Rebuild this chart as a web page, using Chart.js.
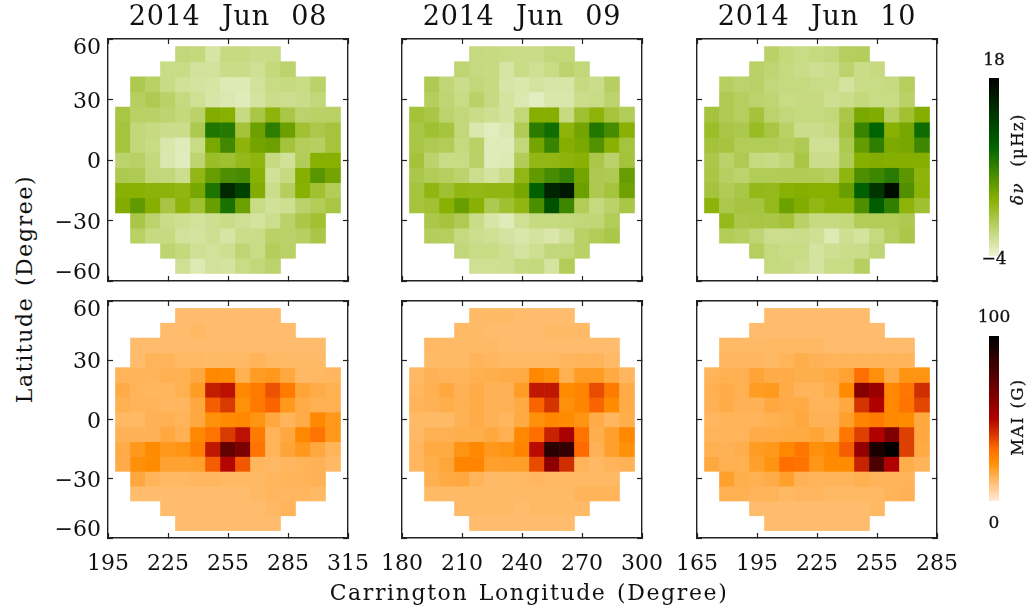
<!DOCTYPE html>
<html>
<head>
<meta charset="utf-8">
<title>Carrington maps 2014 Jun 08-10</title>
<script src="https://cdn.jsdelivr.net/npm/chart.js@4"></script>
<style>
  html, body { margin: 0; padding: 0; background: #fff; }
  #page { position: relative; width: 1031px; height: 614px; overflow: hidden; font-family: "DejaVu Serif", serif; color: #111; }
  canvas { position: absolute; }
  .txt { position: absolute; white-space: pre; transform: translate(-50%, -50%); }
  .rot { transform: translate(-50%, -50%) rotate(-90deg); }
  .title { font-size: 27px; letter-spacing: .8px; word-spacing: 12px; }
  .axis { font-size: 22px; letter-spacing: 1.6px; word-spacing: 2px; }
  .cb { font-size: 17px; -webkit-text-stroke: .3px #111; }
  .cbt { font-size: 16.5px; letter-spacing: 1.4px; word-spacing: 1px; -webkit-text-stroke: .3px #111; }
</style>
</head>
<body>
<div id="page"></div>
<script>
var _ = null;
var dates = ["2014 Jun 08", "2014 Jun 09", "2014 Jun 10"];
var latCells = [52.5, 45, 37.5, 30, 22.5, 15, 7.5, 0, -7.5, -15, -22.5, -30, -37.5, -45, -52.5];
var latTicks = [-60, -30, 0, 30, 60];
var lonTicks = [
  [195, 225, 255, 285, 315],
  [180, 210, 240, 270, 300],
  [165, 195, 225, 255, 285]
];
var lonCells = [
  [202.5, 210, 217.5, 225, 232.5, 240, 247.5, 255, 262.5, 270, 277.5, 285, 292.5, 300, 307.5],
  [187.5, 195, 202.5, 210, 217.5, 225, 232.5, 240, 247.5, 255, 262.5, 270, 277.5, 285, 292.5],
  [172.5, 180, 187.5, 195, 202.5, 210, 217.5, 225, 232.5, 240, 247.5, 255, 262.5, 270, 277.5]
];

/* delta nu, uHz */
var dnuJun08 = [
  [_,_,_,_,-1,-1.1,-2.4,-1.3,-1.3,-1.5,-1.5,_,_,_,_],
  [_,_,_,-1.4,-1.4,-2.1,-2.1,-1.5,-1.5,-1.9,-1.1,-.6,_,_,_],
  [_,.4,-.3,-1.4,-2,-2.2,-2.4,-2.9,-2.9,-2.1,-1.4,-1.3,-1.4,-.5,_],
  [_,-.2,.3,-.4,-1.2,-1.9,-2.5,-2.8,-3.1,-2.2,-1.6,-1.7,-1.5,-1,_],
  [.8,-.3,-.4,-.7,-1.1,-.5,3.3,3,-1.3,.7,2.6,.7,-.6,-.4,-.3],
  [1,-1,-1.3,-1.6,-1.6,.4,8,7.7,1.1,4.3,7.4,4.4,1.3,.5,1],
  [1,-1,-1.4,-2.6,-3.1,-1.4,3.7,6.4,2.6,4,4.4,1.1,0,-.2,1],
  [-.6,-.3,-1.1,-2.7,-3.2,-.7,1.7,1.4,2.1,2.5,-1.3,-2,.1,3,3],
  [.4,.3,-1,-1,-1.7,2.3,4.6,5.8,6.1,2.9,-2,-1.3,3.1,5.3,4],
  [2.9,2.9,2.7,2.7,2.4,3.8,8.1,14.5,12.5,3.3,-1.6,-.1,2.9,1.3,.1],
  [3.3,4.9,3.1,.8,2.6,1.4,4.5,8.3,4.4,-1.4,-2,-1.8,-.5,.1,.8],
  [_,.7,-.6,-1.5,-1.8,-2.1,-1.8,-1.5,-1.9,-2.2,-1.7,-.5,.6,1.3,_],
  [_,-.3,-1.3,-1.3,-2.1,-2.2,-1.8,-2.4,-1.6,-1.5,-.4,-.5,-.2,.7,_],
  [_,_,_,-.7,-1.1,-1.9,-2.1,-1.8,-.8,-1.4,0,-.4,_,_,_],
  [_,_,_,_,-1.9,-2.9,-2.1,-2.2,-1.4,-1,-.6,_,_,_,_]
];
var dnuJun09 = [
  [_,_,_,_,-1.2,-1.3,-1.4,-1.5,-1.5,-1,-1,_,_,_,_],
  [_,_,_,-.8,-1.2,-1.3,-2.4,-1.4,-1.9,-1.4,-.6,-1,_,_,_],
  [_,.3,-.9,-1.6,-1,-1.3,-2.5,-2.7,-2.3,-2.5,-2.5,-1.3,-1.6,-.2,_],
  [_,-.1,-.8,-1.4,-.4,-1.3,-2.2,-2.8,-3.3,-2.6,-2.6,-1.6,-1.4,-.6,_],
  [1.1,.7,-.6,-1,-1.5,-1.8,-2.2,-1,3.1,3.1,-1.3,1.4,2.6,1,.1],
  [.7,1.4,.9,-1,-2.7,-3.2,-2.8,.2,7.5,8.7,2.6,4,7.9,6.1,2.9],
  [.7,.3,.1,-1.2,-.4,-3.1,-3.1,-1,4,6.8,3.2,3.7,5.6,2.9,1],
  [1.1,-.6,-1.4,-1.4,-.4,-3.1,-2.9,.1,2.3,2.3,2.6,2.9,.6,-.5,1.1],
  [.6,.1,-.1,-.6,-1.7,-2.2,-1.5,2.3,4.9,6.1,7,4,.4,.3,4.6],
  [1,2.4,1.4,2.4,2.2,2.4,2.4,3.8,9.8,15,16,4.4,.4,1,4.2],
  [1,1.3,2.9,4.5,2.9,.4,1.4,2.4,5.9,11,6.6,.1,-1.2,-.5,.7],
  [_,.6,1,.3,-1.5,-2.5,-3.1,-1.9,-1.2,-1.2,-1.1,-1,-.9,.1,_],
  [_,0,-.1,-1.2,-1.7,-1.9,-2.3,-2.6,-2.3,-2.6,-1.9,-.4,.1,.6,_],
  [_,_,_,-1,-1.4,-1.4,-1.8,-2.3,-1.8,-1,-1,-.4,_,_,_],
  [_,_,_,_,-1.9,-1.9,-1.8,-1.2,-1.1,-2.2,.1,_,_,_,_]
];
var dnuJun10 = [
  [_,_,_,_,-.4,-1.1,-1.4,-1.2,-1,-.1,0,_,_,_,_],
  [_,_,_,-.4,-.8,-1.2,-1.5,-1.8,-1.6,-.6,-1.5,-1.3,_,_,_],
  [_,-.2,-.6,-.4,-1,-1.2,-1.2,-1.4,-1.5,-2.2,-1.5,-1.4,-1.3,-.1,_],
  [_,.3,-.1,-.6,-.8,-1.4,-1.3,-1.3,-1.8,-1.6,-1.1,-1.4,-1.4,-.4,_],
  [1,.3,-.1,1.1,-.6,-1,-1.2,-1.2,-1,.6,3.7,3.4,-.2,1.3,3.2],
  [1.7,.7,.5,1.8,.8,-.4,-1.6,-1.6,-1.3,1,6.8,9.5,2.9,3.8,8.8],
  [1.1,.9,.1,.1,.1,-.1,.3,-1.9,-1.9,.4,4.7,7.3,3.5,3.8,6.5],
  [.6,-.5,.3,-1.2,-1.4,-.9,.7,-1.6,-1.6,.1,3.1,3.3,3.2,3.2,3.2],
  [.7,-.2,-.6,.1,.1,.2,.2,.1,-.2,2.5,5.8,6.6,7.6,5.1,2.6],
  [1,.2,.7,2.2,2.1,2.9,3.2,3,3,4.5,9.8,13.5,17,5.7,2.8],
  [2.6,.5,.9,.9,2.1,4.3,3.3,2.3,2.9,2.9,5.8,10,7.2,2.6,1.4],
  [_,2.1,.6,.8,.7,1.1,-.4,-1.3,-1.3,-1.1,.1,.1,.1,.4,_],
  [_,.1,-.2,-.8,-1.7,-1.7,-1.6,-1.9,-2.9,-1.8,-2.2,-1.2,-.1,.6,_],
  [_,_,_,-.1,-1.2,-1.4,-1.4,-2.3,-1.8,-1.6,-1.5,-.8,_,_,_],
  [_,_,_,_,-1.2,-1.3,-1.7,-2.3,-1.4,-1.4,-.2,_,_,_,_]
];

/* MAI, gauss */
var maiJun08 = [
  [_,_,_,_,12,12,12,12,12,12,12,_,_,_,_],
  [_,_,_,12,12,13,12,12,12,12,12,12,_,_,_],
  [_,12,12,12,12,12,12,12,12,12,12,12,12,12,_],
  [_,12,14,14,13,13,12.5,13,13,14,13,12.5,12.5,12.5,_],
  [14,14,14,15,15,17,25,24,15,20,21,17,13,13,13.5],
  [16,14,13.5,13.5,15,20,45,47,25,28,36,28,18,16,15],
  [15,14,14,13.5,13.5,17,34,40,23,28,33,21,16,15,15],
  [13,13,14.5,15,14,17,23,24,25,22,17,14,16,25,21],
  [14.5,14.5,14.5,17,15,25,30,40,47,28,14,17,25,30,21],
  [16,21,24,21,22,27,46,72,65,30,14,18,21,17,14],
  [16,23,24,18.5,18.5,19,34,49,35,13.5,13,13.5,14,14.5,13],
  [_,17,14,13,13,13.5,13.5,13,13,13,13.5,14,14,14.5,_],
  [_,12,12,12,12,12,12,12,12,13,13.5,13.5,13.5,13,_],
  [_,_,_,12,12,12,12,12,12,12,13,14,_,_,_],
  [_,_,_,_,12,12,12,12,12,12,12,_,_,_,_]
];
var maiJun09 = [
  [_,_,_,_,12.5,12.5,12.5,12,12,12,12,_,_,_,_],
  [_,_,_,12.5,12.5,12,12,12,12,12.5,12.5,12.5,_,_,_],
  [_,13,12.5,12.5,12.5,12.5,12,12,12,12,12,12,12,12,_],
  [_,12.5,12.5,12.5,14,13.5,13,13,13,13,13.5,14,14,12.5,_],
  [13,14.5,14,14,15,15.5,16,16.5,25,23,15,20,20,16.5,13.5],
  [13.5,15,17,14.5,16,14.5,14.5,20,46,46,24,26,37,28,16],
  [14,14.5,15.5,15,16,14.5,14.5,16.5,33,41,23,26,33,24,16],
  [12.5,12.5,12.5,14.5,16,14.5,13.5,16.5,23,25,24,22,16,13.5,15.5],
  [13,15,15,15.5,15.5,17,15,25,31,44,52,30,15.5,19,25],
  [13.5,16.5,16.5,22,25,21,22,26,48,88,85,32,14.5,19,23],
  [13.5,15.5,17.5,26,26,19,19.5,19.5,37,60,42,14,13,14,14.5],
  [_,15,16.5,17,14,12.5,12.5,13,13.5,13,13,13,13,13,_],
  [_,12.5,12.5,12.5,12.5,12.5,12.5,12.5,12.5,12.5,12.5,14,14,14,_],
  [_,_,_,12.5,12.5,12.5,12.5,12,12.5,12.5,12.5,12.5,_,_,_],
  [_,_,_,_,12,12,12,12,12,12,12,_,_,_,_]
];
var maiJun10 = [
  [_,_,_,_,12,12,12,12,12,12,12,_,_,_,_],
  [_,_,_,12,12,12,12,12,12,12,12,12,_,_,_],
  [_,12.5,12.5,12.5,13,13,13,13,12,12,12,12,12,12,_],
  [_,13.5,13.5,13.5,13,14,15.5,14.5,14,14,14,14,14,14,_],
  [14,15,15,18,16,16,15.5,15.5,16.5,18.5,31,23,16,22,22],
  [15,16,15,20,20.5,16,14,14,15.5,24,62,56,25,29,42],
  [14.5,16,14.5,14.5,17,16,16.5,14,14,17,41,50,25,30,38],
  [13.5,14,14,14,15,15.5,17,14.5,14.5,19,26,28,25,24,17],
  [14,14,14,16,16,16.5,16.5,18,15.5,29,39,50,64,39,17],
  [15,14.5,15.5,20,21,25,29,23,25,34,58,92,100,39,16.5],
  [17,15,15,19,22,31,30,21.5,24,24,44,78,50,15.5,14],
  [_,19,15.5,15,16,19,14.5,14,14,14,15,14,14,14,_],
  [_,15,15,14,14,13,13.5,13.5,13,13,13,13,14,14.5,_],
  [_,_,_,12,12,12,12,12,12,12,12,13,_,_,_],
  [_,_,_,_,12,12,12,12,12,12,12,_,_,_,_]
];

var dnuRange = [-4, 18];
var maiRange = [0, 100];
var dnuStops = [[-4, [238, 244, 212]], [3, [136, 176, 0]], [9.5, [0, 100, 0]], [18, [0, 0, 0]]];
var maiStops = [[0, [255, 235, 215]], [24, [255, 140, 0]], [32, [255, 106, 0]], [42, [207, 46, 0]], [50, [176, 0, 0]], [100, [0, 0, 0]]];

var page = document.getElementById("page");

function colorOf(stops, v) {
  var i = 0;
  while (i < stops.length - 2 && v > stops[i + 1][0]) i++;
  var a = stops[i], b = stops[i + 1];
  var t = Math.min(1, Math.max(0, (v - a[0]) / (b[0] - a[0])));
  var c = a[1].map(function (ca, k) { return Math.round(ca + (b[1][k] - ca) * t); });
  return "rgb(" + c.join(",") + ")";
}

function addText(cls, text, x, y) {
  var el = document.createElement("div");
  el.className = "txt " + cls;
  el.innerHTML = text;
  el.style.left = x + "px";
  el.style.top = y + "px";
  page.appendChild(el);
}

function addCanvas(x, y, w, h) {
  var c = document.createElement("canvas");
  c.width = w;
  c.height = h;
  c.style.left = x + "px";
  c.style.top = y + "px";
  c.style.width = w + "px";
  c.style.height = h + "px";
  page.appendChild(c);
  return c;
}

/* the end labels sit inside the box: an empty line pushes them off the tick */
function latLabel(v) {
  var s = v < 0 ? "\u2212" + Math.abs(v) : "" + v;
  if (v === latTicks[latTicks.length - 1]) return ["", s];
  if (v === latTicks[0]) return [s, ""];
  return s;
}
function latFont(ctx) {
  var v = ctx.tick ? ctx.tick.value : 0;
  var lh = v === latTicks[0] ? "20px" : v === latTicks[latTicks.length - 1] ? "13px" : "26px";
  return { family: "DejaVu Serif", size: 22, lineHeight: lh };
}

function panel(col, box, rows, stops, showX) {
  var ml = 60, mr = 30, mt = 16, mb = 50;
  var canvas = addCanvas(box.x - ml, box.y - mt, box.w + ml + mr, box.h + mt + mb);
  var datasets = rows.map(function (row, r) {
    var pts = [], colors = [];
    row.forEach(function (v, c) {
      if (v === null) return;
      pts.push({ x: lonCells[col][c], y: [latCells[r] - 3.75, latCells[r] + 3.75] });
      colors.push(colorOf(stops, v));
    });
    return { data: pts, backgroundColor: colors, borderWidth: 0, grouped: false, barPercentage: 1, categoryPercentage: 1 };
  });
  var lon = lonTicks[col];
  function setTicks(arr) {
    return function (s) { s.ticks = arr.map(function (v) { return { value: v }; }); };
  }
  /* keep the plot box fixed: labels must not push the chart area inwards */
  function fix(size) {
    return function (s) {
      if (s.isHorizontal()) s.height = size; else s.width = size;
      s.paddingLeft = s.paddingRight = s.paddingTop = s.paddingBottom = 0;
    };
  }
  function edge(extra) {
    var o = {
      grid: { drawOnChartArea: false, drawTicks: true, tickLength: -5, tickColor: "#222", tickWidth: 1.2, offset: false },
      border: { display: true, color: "#222", width: 1.4 },
      offset: false
    };
    for (var k in extra) o[k] = extra[k];
    return o;
  }
  var xRange = { min: lon[0], max: lon[lon.length - 1] };
  return new Chart(canvas, {
    type: "bar",
    data: { datasets: datasets },
    options: {
      responsive: false, animation: false,
      layout: { padding: { left: 0, right: mr, top: mt, bottom: 0 } },
      plugins: { legend: { display: false }, tooltip: { enabled: false } },
      scales: {
        x: edge({ type: "linear", position: "bottom", min: xRange.min, max: xRange.max,
          afterBuildTicks: setTicks(lon), afterFit: fix(mb),
          ticks: { display: showX, autoSkip: false, maxRotation: 0, padding: 18, color: "#111", font: { family: "DejaVu Serif", size: 22 } } }),
        x2: edge({ type: "linear", position: "top", min: xRange.min, max: xRange.max,
          afterBuildTicks: setTicks(lon), afterFit: fix(0),
          ticks: { display: false } }),
        y: edge({ type: "linear", position: "left", min: -60, max: 60,
          afterBuildTicks: setTicks(latTicks), afterFit: fix(ml),
          ticks: { display: col === 0, autoSkip: false, padding: 12, labelOffset: 2.5, color: "#111", callback: latLabel, font: latFont } }),
        y2: edge({ type: "linear", position: "right", min: -60, max: 60,
          afterBuildTicks: setTicks(latTicks), afterFit: fix(0),
          ticks: { display: false } })
      }
    }
  });
}

function colorbar(box, range, stops) {
  var canvas = addCanvas(box.x, box.y, box.w, box.h);
  var g = canvas.getContext("2d").createLinearGradient(0, box.h, 0, 0);
  stops.forEach(function (s) {
    g.addColorStop((s[0] - range[0]) / (range[1] - range[0]), colorOf(stops, s[0]));
  });
  return new Chart(canvas, {
    type: "bar",
    data: { labels: [""], datasets: [{ data: [[range[0], range[1]]], backgroundColor: g, borderWidth: 0, barPercentage: 1, categoryPercentage: 1 }] },
    options: {
      responsive: false, animation: false,
      plugins: { legend: { display: false }, tooltip: { enabled: false } },
      scales: { x: { display: false }, y: { display: false, min: range[0], max: range[1] } }
    }
  });
}

var colX = [108, 402, 697];
var titleX = [228, 522, 817];
[dnuJun08, dnuJun09, dnuJun10].forEach(function (rows, i) {
  panel(i, { x: colX[i], y: 39, w: 240, h: 242 }, rows, dnuStops, false);
  addText("title", dates[i], titleX[i], 15);
});
[maiJun08, maiJun09, maiJun10].forEach(function (rows, i) {
  panel(i, { x: colX[i], y: 301, w: 240, h: 237 }, rows, maiStops, true);
});

colorbar({ x: 989, y: 78, w: 10, h: 178 }, dnuRange, dnuStops);
colorbar({ x: 989, y: 336, w: 10, h: 165 }, maiRange, maiStops);

addText("axis", "Carrington Longitude (Degree)", 529, 592);
addText("axis rot", "Latitude (Degree)", 24, 289);
addText("cb", "18", 994, 59);
addText("cb", "\u22124", 994, 258);
addText("cb", "100", 994, 316);
addText("cb", "0", 994, 522);
addText("cbt rot", "<i>\u03b4\u03bd</i>  (\u03bcHz)", 1017, 159);
addText("cbt rot", "MAI (G)", 1017, 417);
</script>
</body>
</html>
